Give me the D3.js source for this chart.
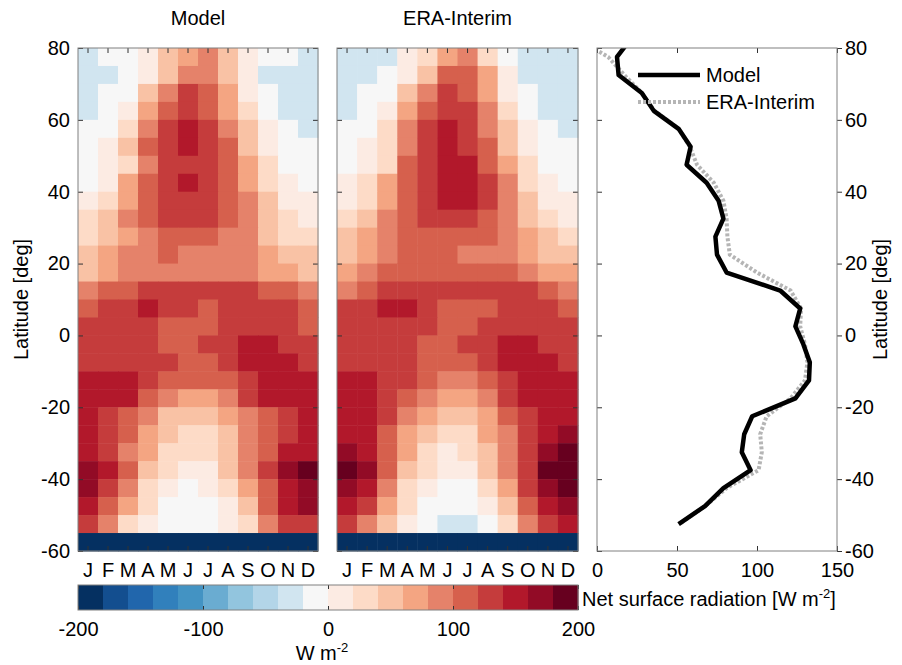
<!DOCTYPE html>
<html>
<head>
<meta charset="utf-8">
<script src="https://cdn.jsdelivr.net/npm/d3@7"></script>
<style>
  html, body { margin: 0; padding: 0; background: #ffffff; }
  svg { display: block; font-family: "Liberation Sans", Arial, Helvetica, sans-serif; }
</style>
</head>
<body>
<script>
// ---- data -------------------------------------------------------------
const months = ["J", "F", "M", "A", "M", "J", "J", "A", "S", "O", "N", "D"];

// upper edge of each 5-degree latitude band, north to south
const bandTop = [80, 75, 70, 65, 60, 55, 50, 45, 40, 35, 30, 25, 20, 15, 10, 5,
                 0, -5, -10, -15, -20, -25, -30, -35, -40, -45, -50, -55];
const bandHeight = 5;

// monthly net surface radiation [W m-2], one row per band (Jan..Dec)
const modelNet = [
  [-30, -10, -10, 10, 50, 70, 90, 50, 10, -10, -10, -30],
  [-30, -30, -10, 10, 50, 90, 90, 50, 10, -30, -30, -30],
  [-30, -10, -10, 50, 90, 130, 110, 70, 10, -10, -30, -30],
  [-30, -10, 10, 70, 110, 130, 110, 70, 30, -10, -30, -30],
  [-10, -10, 30, 90, 130, 150, 130, 90, 50, 10, -10, -30],
  [-10, 10, 50, 110, 130, 150, 130, 110, 50, 10, -10, -10],
  [-10, 10, 30, 90, 130, 130, 130, 110, 70, 30, -10, -10],
  [-10, 10, 70, 110, 130, 150, 130, 110, 70, 30, 10, -10],
  [10, 30, 70, 110, 130, 130, 130, 110, 90, 50, 10, 10],
  [30, 50, 90, 110, 130, 130, 130, 110, 90, 50, 30, 10],
  [30, 50, 70, 90, 110, 110, 110, 90, 90, 50, 30, 30],
  [50, 70, 90, 90, 110, 90, 90, 90, 90, 70, 50, 50],
  [50, 70, 90, 90, 90, 90, 90, 90, 90, 70, 70, 50],
  [90, 110, 110, 130, 130, 130, 130, 130, 130, 110, 110, 90],
  [110, 130, 130, 150, 130, 130, 110, 130, 130, 130, 130, 110],
  [130, 130, 130, 130, 110, 110, 110, 130, 130, 130, 130, 110],
  [130, 130, 130, 130, 110, 110, 130, 130, 150, 150, 130, 130],
  [130, 130, 130, 130, 130, 110, 110, 130, 150, 150, 150, 130],
  [150, 150, 150, 130, 110, 110, 110, 110, 130, 150, 150, 150],
  [150, 150, 150, 110, 90, 70, 70, 90, 130, 150, 150, 150],
  [150, 130, 110, 90, 50, 50, 50, 70, 90, 110, 130, 150],
  [150, 130, 110, 70, 50, 30, 30, 50, 90, 110, 130, 150],
  [150, 130, 90, 70, 30, 30, 30, 50, 90, 110, 150, 150],
  [170, 150, 110, 50, 30, 10, 10, 50, 90, 130, 170, 190],
  [170, 130, 90, 30, 10, -10, 10, 30, 70, 110, 150, 170],
  [150, 110, 70, 30, -10, -10, -10, 10, 50, 110, 150, 170],
  [130, 90, 30, 10, -10, -10, -10, 10, 30, 90, 130, 130],
  [-190, -190, -190, -190, -190, -190, -190, -190, -190, -190, -190, -190]
];

const eraNet = [
  [-30, -30, -30, 10, 30, 70, 90, 30, -10, -30, -30, -30],
  [-30, -30, -10, 10, 50, 110, 110, 70, 10, -30, -30, -30],
  [-30, -10, -10, 50, 90, 130, 110, 70, 10, -10, -30, -30],
  [-30, -10, 10, 70, 110, 130, 130, 90, 30, -10, -30, -30],
  [-10, -10, 30, 90, 130, 150, 130, 90, 50, 10, -10, -30],
  [-10, 10, 30, 90, 130, 150, 130, 110, 50, 10, -10, -10],
  [-10, 10, 30, 110, 130, 150, 150, 110, 70, 30, -10, -10],
  [10, 30, 70, 110, 130, 150, 150, 130, 90, 30, 10, -10],
  [10, 30, 70, 110, 130, 150, 150, 130, 90, 50, 10, 10],
  [30, 50, 90, 110, 130, 130, 130, 110, 90, 50, 30, 10],
  [50, 70, 90, 110, 110, 110, 110, 110, 90, 70, 50, 30],
  [50, 70, 90, 110, 110, 110, 90, 90, 90, 70, 50, 50],
  [70, 90, 110, 110, 110, 110, 110, 110, 110, 90, 70, 70],
  [90, 110, 130, 130, 130, 130, 130, 130, 130, 130, 110, 90],
  [130, 130, 150, 150, 130, 110, 110, 110, 130, 130, 130, 110],
  [130, 130, 130, 130, 130, 110, 110, 130, 130, 130, 130, 130],
  [130, 130, 130, 130, 110, 110, 130, 130, 150, 150, 130, 130],
  [130, 130, 130, 130, 110, 110, 110, 130, 150, 150, 150, 130],
  [150, 150, 130, 130, 110, 90, 90, 110, 130, 150, 150, 150],
  [150, 150, 130, 110, 90, 70, 70, 90, 130, 150, 150, 150],
  [150, 150, 130, 90, 70, 50, 50, 70, 110, 130, 150, 150],
  [150, 150, 110, 70, 50, 30, 30, 70, 90, 130, 150, 170],
  [170, 150, 110, 70, 30, 10, 30, 50, 90, 130, 170, 190],
  [190, 170, 110, 50, 30, 10, 10, 50, 90, 130, 190, 190],
  [170, 150, 90, 30, 10, -10, -10, 30, 70, 130, 170, 190],
  [150, 130, 70, 30, -10, -10, -10, 10, 50, 110, 150, 170],
  [130, 90, 50, 10, -10, -30, -30, -10, 30, 90, 130, 150],
  [-190, -190, -190, -190, -190, -190, -190, -190, -190, -190, -190, -190]
];

// annual-mean profiles at band centres [W m-2]
const profileLat = [82.5, 77.5, 72.5, 67.5, 62.5, 57.5, 52.5, 47.5, 42.5, 37.5, 32.5, 27.5, 22.5,
                    17.5, 12.5, 7.5, 2.5, -2.5, -7.5, -12.5, -17.5, -22.5, -27.5, -32.5, -37.5,
                    -42.5, -47.5, -52.5];
const profileModel = [21, 12.5, 13.5, 28, 35.5, 51, 58.5, 56, 68.5, 76, 79, 74, 75,
                      81, 114.5, 127, 124, 129, 133, 132.5, 124, 97, 92, 90.5, 96,
                      79, 67.5, 51];
const profileEra = [-12, 7, 17, 28, 36, 51, 58, 62.5, 73, 79, 81, 81.5, 83,
                    100, 121, 127.5, 127, 130, 131.5, 130, 121, 106, 102, 103, 101,
                    81, 67.5, 51.5];

const latTicks = [80, 60, 40, 20, 0, -20, -40, -60];
const profileTicks = [0, 50, 100, 150];
const colorTicks = [-200, -100, 0, 100, 200];

// 20-step diverging palette, -200 .. 200 W m-2
const palette = ["#053061", "#134e8f", "#2166ac", "#3180bc", "#4393c3", "#6aacd1", "#92c5de",
                 "#b3d5e8", "#d1e5f0", "#f7f7f7", "#fcebe3", "#fddbc7", "#f9c2a5", "#f4a582",
                 "#e5826a", "#d6604d", "#c53c3c", "#b2182b", "#920b26", "#67001f"];

// ---- layout -----------------------------------------------------------
const W = 902, H = 665;
const plotTop = 48, plotBottom = 551;
const panels = [
  { title: "Model", data: modelNet, x0: 78, x1: 318 },
  { title: "ERA-Interim", data: eraNet, x0: 337, x1: 578 }
];
const lineX0 = 597, lineX1 = 837;
const frameColor = "#808080";
const fontSize = 20;
const plainNumber = d => String(d);   // ASCII hyphen for negatives

const svg = d3.select("body").append("svg").attr("width", W).attr("height", H);

const y = d3.scaleLinear().domain([-60, 80]).range([plotBottom, plotTop]);
const color = d3.scaleQuantize().domain([-200, 200]).range(palette);

function cleanAxis(g) {
  g.select(".domain").remove();
  g.selectAll(".tick line").attr("stroke", "#333").attr("stroke-width", 1);
  g.selectAll(".tick text").attr("font-size", fontSize).attr("fill", "#000")
    .attr("font-family", "\"Liberation Sans\", Arial, sans-serif");
}

// ---- heatmap panels ---------------------------------------------------
panels.forEach((p, pi) => {
  const x = d3.scaleBand().domain(d3.range(months.length)).range([p.x0, p.x1]);
  const g = svg.append("g");

  const rows = g.selectAll("g.row").data(p.data).join("g").attr("class", "row");
  rows.each(function (row, ri) {
    d3.select(this).selectAll("rect").data(row).join("rect")
      .attr("x", (d, mi) => x(mi))
      .attr("y", y(bandTop[ri]))
      .attr("width", x.bandwidth() + 0.5)
      .attr("height", y(bandTop[ri] - bandHeight) - y(bandTop[ri]) + 0.5)
      .attr("fill", d => color(d));
  });

  // month ticks (top and bottom, inward) and labels
  const bottomAxis = d3.axisBottom(x).tickSizeInner(-5).tickSizeOuter(0).tickPadding(12)
    .tickFormat(i => months[i]);
  g.append("g").attr("transform", `translate(0,${plotBottom})`).call(bottomAxis).call(cleanAxis);
  const topAxis = d3.axisTop(x).tickSizeInner(-5).tickSizeOuter(0).tickFormat("");
  g.append("g").attr("transform", `translate(0,${plotTop})`).call(topAxis).call(cleanAxis);

  // latitude ticks on both sides
  const leftAxis = d3.axisLeft(y).tickValues(latTicks).tickSizeInner(-5).tickSizeOuter(0)
    .tickPadding(8).tickFormat(pi === 0 ? plainNumber : "");
  g.append("g").attr("transform", `translate(${p.x0},0)`).call(leftAxis).call(cleanAxis);
  const rightAxis = d3.axisRight(y).tickValues(latTicks).tickSizeInner(-5).tickSizeOuter(0)
    .tickFormat("");
  g.append("g").attr("transform", `translate(${p.x1},0)`).call(rightAxis).call(cleanAxis);

  g.append("rect").attr("x", p.x0).attr("y", plotTop)
    .attr("width", p.x1 - p.x0).attr("height", plotBottom - plotTop)
    .attr("fill", "none").attr("stroke", frameColor).attr("stroke-width", 1);

  g.append("text").attr("x", (p.x0 + p.x1) / 2).attr("y", 25)
    .attr("text-anchor", "middle").attr("font-size", fontSize).text(p.title);
});

// left y-axis title
svg.append("text")
  .attr("transform", `translate(28,${(plotTop + plotBottom) / 2}) rotate(-90)`)
  .attr("text-anchor", "middle").attr("font-size", fontSize).text("Latitude [deg]");

// ---- annual-mean profile panel ----------------------------------------
const xl = d3.scaleLinear().domain([0, 150]).range([lineX0, lineX1]);
const lp = svg.append("g");

lp.append("clipPath").attr("id", "profile-clip").append("rect")
  .attr("x", lineX0).attr("y", plotTop).attr("width", lineX1 - lineX0).attr("height", plotBottom - plotTop);

const line = d3.line().x(d => xl(d[0])).y(d => y(d[1]));
const eraPts = profileLat.map((lat, i) => [profileEra[i], lat]);
const modelPts = profileLat.map((lat, i) => [profileModel[i], lat]);

const lines = lp.append("g").attr("clip-path", "url(#profile-clip)");
lines.append("path").attr("d", line(eraPts)).attr("fill", "none")
  .attr("stroke", "#b5b5b5").attr("stroke-width", 4).attr("stroke-dasharray", "3,2");
lines.append("path").attr("d", line(modelPts)).attr("fill", "none")
  .attr("stroke", "#000").attr("stroke-width", 4.5).attr("stroke-linejoin", "round");

const lxBottom = d3.axisBottom(xl).tickValues(profileTicks).tickSizeInner(-5).tickSizeOuter(0)
  .tickPadding(12).tickFormat(plainNumber);
lp.append("g").attr("transform", `translate(0,${plotBottom})`).call(lxBottom).call(cleanAxis);
const lxTop = d3.axisTop(xl).tickValues(profileTicks).tickSizeInner(-5).tickSizeOuter(0).tickFormat("");
lp.append("g").attr("transform", `translate(0,${plotTop})`).call(lxTop).call(cleanAxis);
const lyLeft = d3.axisLeft(y).tickValues(latTicks).tickSizeInner(-5).tickSizeOuter(0).tickFormat("");
lp.append("g").attr("transform", `translate(${lineX0},0)`).call(lyLeft).call(cleanAxis);
const lyRight = d3.axisRight(y).tickValues(latTicks).tickSizeInner(5).tickSizeOuter(0)
  .tickPadding(3).tickFormat(plainNumber);
lp.append("g").attr("transform", `translate(${lineX1},0)`).call(lyRight).call(cleanAxis);

lp.append("rect").attr("x", lineX0).attr("y", plotTop)
  .attr("width", lineX1 - lineX0).attr("height", plotBottom - plotTop)
  .attr("fill", "none").attr("stroke", frameColor).attr("stroke-width", 1);

svg.append("text")
  .attr("transform", `translate(887,${(plotTop + plotBottom) / 2}) rotate(-90)`)
  .attr("text-anchor", "middle").attr("font-size", fontSize).text("Latitude [deg]");

// legend
const legend = lp.append("g");
legend.append("line").attr("x1", 638).attr("x2", 700).attr("y1", 75).attr("y2", 75)
  .attr("stroke", "#000").attr("stroke-width", 4.5);
legend.append("text").attr("x", 706).attr("y", 75).attr("dy", "0.35em")
  .attr("font-size", fontSize).text("Model");
legend.append("line").attr("x1", 638).attr("x2", 700).attr("y1", 102).attr("y2", 102)
  .attr("stroke", "#b5b5b5").attr("stroke-width", 4).attr("stroke-dasharray", "3,2");
legend.append("text").attr("x", 706).attr("y", 102).attr("dy", "0.35em")
  .attr("font-size", fontSize).text("ERA-Interim");

// ---- colour bar --------------------------------------------------------
const cbTop = 585, cbBottom = 610;
const xc = d3.scaleLinear().domain([-200, 200]).range([78, 578]);
const cb = svg.append("g");
const binEdges = palette.map(c => color.invertExtent(c));
cb.selectAll("rect.bin").data(binEdges).join("rect").attr("class", "bin")
  .attr("x", d => xc(d[0])).attr("y", cbTop)
  .attr("width", d => xc(d[1]) - xc(d[0]) + 0.5).attr("height", cbBottom - cbTop)
  .attr("fill", d => color((d[0] + d[1]) / 2));

const cbAxis = d3.axisBottom(xc).tickValues(colorTicks).tickSizeInner(-4).tickSizeOuter(0)
  .tickPadding(12).tickFormat(plainNumber);
cb.append("g").attr("transform", `translate(0,${cbBottom})`).call(cbAxis).call(cleanAxis);
const cbTopAxis = d3.axisTop(xc).tickValues(colorTicks).tickSizeInner(-4).tickSizeOuter(0).tickFormat("");
cb.append("g").attr("transform", `translate(0,${cbTop})`).call(cbTopAxis).call(cleanAxis);
cb.append("rect").attr("x", 78).attr("y", cbTop).attr("width", 500).attr("height", cbBottom - cbTop)
  .attr("fill", "none").attr("stroke", frameColor).attr("stroke-width", 1);

const unit = cb.append("text").attr("x", 322).attr("y", 660).attr("text-anchor", "middle")
  .attr("font-size", fontSize);
unit.append("tspan").text("W m");
unit.append("tspan").attr("font-size", 13).attr("dy", -8).text("-2");

const cbLabel = cb.append("text").attr("x", 582).attr("y", 606).attr("font-size", fontSize);
cbLabel.append("tspan").text("Net surface radiation [W m");
cbLabel.append("tspan").attr("font-size", 13).attr("dy", -8).text("-2");
cbLabel.append("tspan").attr("dy", 8).text("]");
</script>
</body>
</html>
